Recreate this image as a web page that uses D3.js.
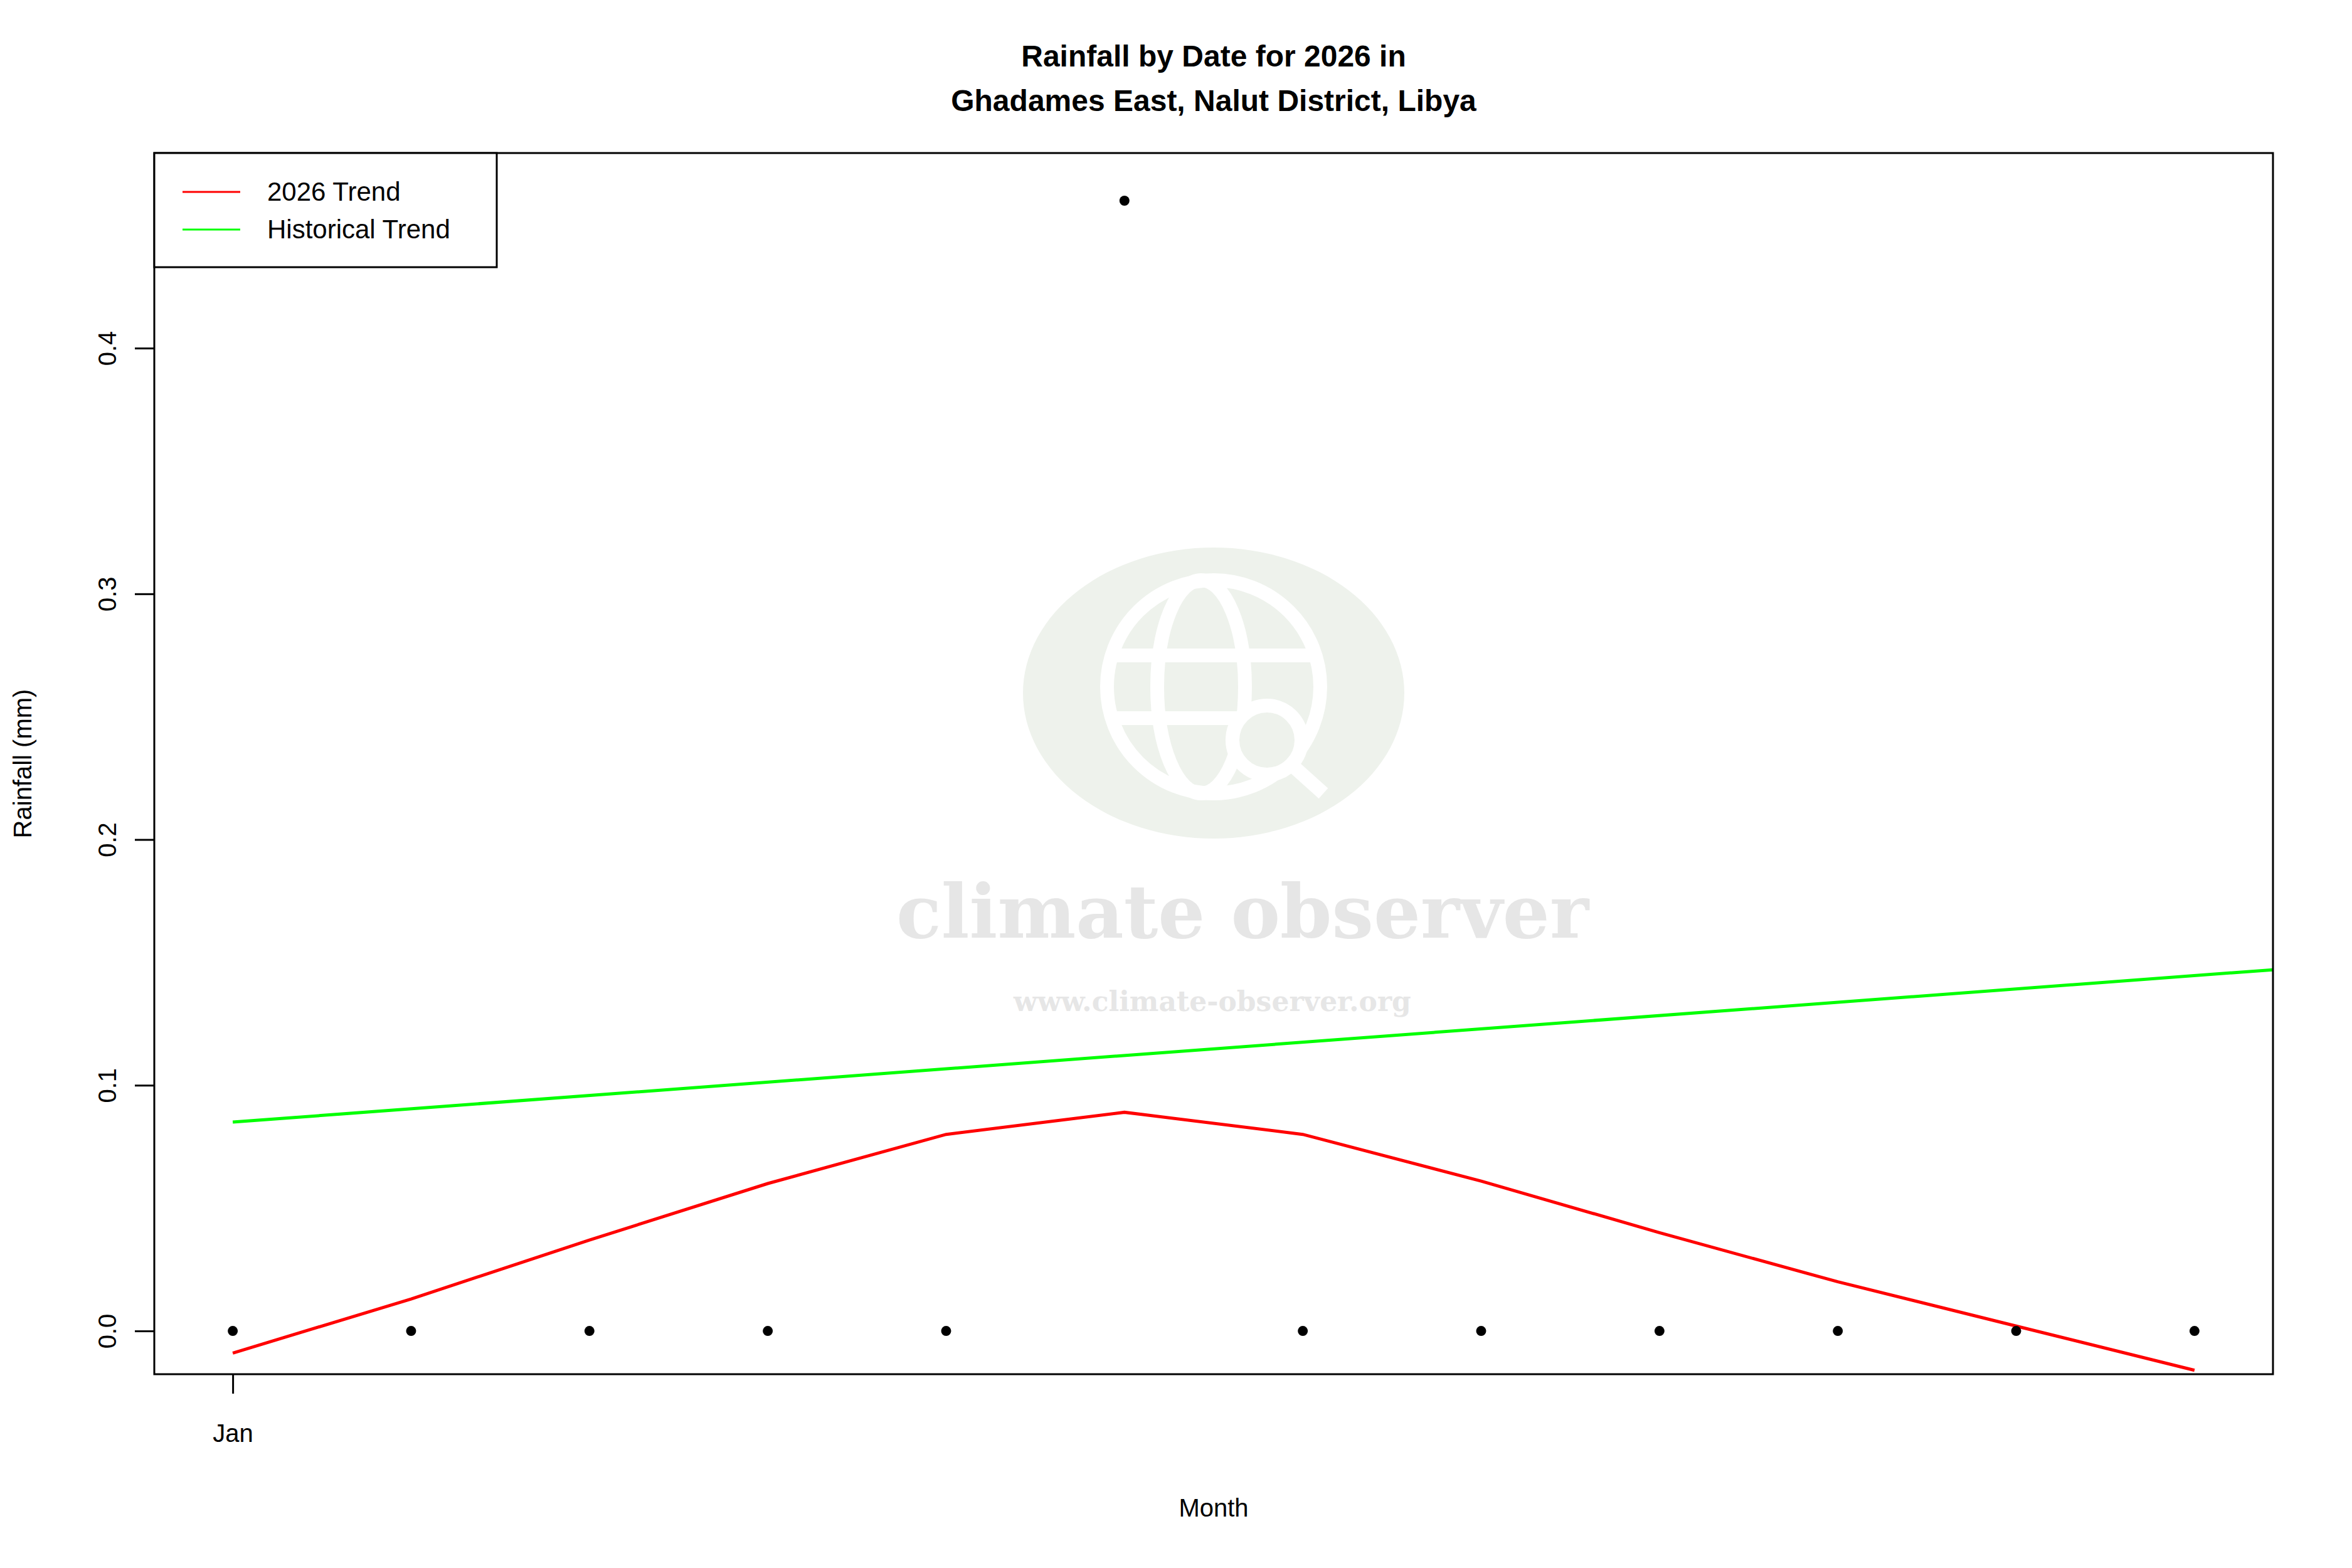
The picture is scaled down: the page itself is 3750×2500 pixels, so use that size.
<!DOCTYPE html>
<html><head><meta charset="utf-8">
<script src="https://cdn.jsdelivr.net/npm/d3@7"></script>
<style>body{margin:0;background:#fff}svg{display:block;font-family:"Liberation Sans",Arial,sans-serif}</style>
</head><body>
<script>
const months = [1,2,3,4,5,6,7,8,9,10,11,12];
const monthLabels = ["Jan"];
const obsMonths = [1,2,3,4,5,6,7,8,9,10,11,12];
const obsValues = [0,0,0,0,0,0.46,0,0,0,0,0,0];
const trend2026 = [-0.009,0.013,0.037,0.060,0.080,0.089,0.080,0.061,0.040,0.020,0.002,-0.016];
const histX = [1,12.44];
const histValues = [0.085,0.147];
const yTicks = [0,0.1,0.2,0.3,0.4];

const W=3750,H=2500;
const L=246,R=3624,T=244,B=2191;
const svg=d3.select("body").append("svg").attr("width",W).attr("height",H);
const x=d3.scaleLinear().domain([0.560,12.44]).range([L,R]);
const y=d3.scaleLinear().domain([-0.0176,0.4794]).range([B,T]);

// watermark
const cx=1935, cy=1105;
svg.append("ellipse").attr("cx",cx).attr("cy",cy).attr("rx",304).attr("ry",232).attr("fill","#eef2ec");
const g=svg.append("g").attr("fill","none").attr("stroke","#fff").attr("stroke-width",22);
g.append("circle").attr("cx",cx).attr("cy",cy-10).attr("r",170);
g.append("ellipse").attr("cx",cx-20).attr("cy",cy-10).attr("rx",70).attr("ry",170);
g.append("line").attr("x1",cx-170).attr("x2",cx+170).attr("y1",cy-60).attr("y2",cy-60);
g.append("line").attr("x1",cx-170).attr("x2",cx+100).attr("y1",cy+40).attr("y2",cy+40);
g.append("circle").attr("cx",cx+85).attr("cy",cy+75).attr("r",55).attr("fill","#eef2ec");
g.append("line").attr("x1",cx+125).attr("y1",cy+115).attr("x2",cx+175).attr("y2",cy+160);
svg.append("text").attr("x",1981).attr("y",1495).attr("text-anchor","middle").attr("font-family","DejaVu Serif").attr("font-weight","bold").attr("font-size",118).attr("fill","#e6e6e6").text("climate observer");
svg.append("text").attr("x",1933).attr("y",1612).attr("text-anchor","middle").attr("font-family","DejaVu Serif").attr("font-weight","bold").attr("font-size",44).attr("fill","#e6e6e6").text("www.climate-observer.org");

// lines
const line=d3.line().x(d=>x(d[0])).y(d=>y(d[1]));
svg.append("path").datum(histX.map((m,i)=>[m,histValues[i]])).attr("d",line).attr("fill","none").attr("stroke","#00ff00").attr("stroke-width",5);
svg.append("path").datum(months.map((m,i)=>[m,trend2026[i]])).attr("d",line).attr("fill","none").attr("stroke","#ff0000").attr("stroke-width",5);
svg.selectAll("circle.pt").data(obsMonths.map((m,i)=>[m,obsValues[i]]).filter(d=>!(d[0]===6&&d[1]===0))).enter().append("circle")
 .attr("class","pt").attr("cx",d=>x(d[0])).attr("cy",d=>y(d[1])).attr("r",8).attr("fill","#000");

// box
svg.append("rect").attr("x",L).attr("y",T).attr("width",R-L).attr("height",B-T).attr("fill","none").attr("stroke","#000").attr("stroke-width",3);

// axes
const ya=d3.axisLeft(y).tickValues(yTicks).tickFormat(d3.format(".1f")).tickSize(30).tickPadding(0);
const yg=svg.append("g").attr("transform",`translate(${L-1},0)`).call(ya);
yg.select(".domain").remove();
yg.selectAll("line").attr("stroke-width",3);
yg.selectAll("text").attr("font-size",40).attr("x",0).attr("y",0).attr("dy",0).attr("text-anchor","middle")
  .attr("transform","translate(-60,0) rotate(-90)");
const xa=d3.axisBottom(x).tickValues([1]).tickFormat((d,i)=>monthLabels[i]).tickSize(30).tickPadding(0);
const xg=svg.append("g").attr("transform",`translate(0,${B+1})`).call(xa);
xg.select(".domain").remove();
xg.selectAll("line").attr("stroke-width",3);
xg.selectAll("text").attr("font-size",40).attr("y",107).attr("dy",0);

// labels
svg.append("text").attr("x",(L+R)/2).attr("y",89+17).attr("text-anchor","middle").attr("font-weight","bold").attr("font-size",48).text("Rainfall by Date for 2026 in");
svg.append("text").attr("x",(L+R)/2).attr("y",160+17).attr("text-anchor","middle").attr("font-weight","bold").attr("font-size",48).text("Ghadames East, Nalut District, Libya");
svg.append("text").attr("x",(L+R)/2).attr("y",2418).attr("text-anchor","middle").attr("font-size",40).text("Month");
svg.append("text").attr("transform",`translate(50,${(T+B)/2}) rotate(-90)`).attr("text-anchor","middle").attr("font-size",40).text("Rainfall (mm)");

// legend
svg.append("rect").attr("x",L).attr("y",T).attr("width",546).attr("height",182).attr("fill","#fff").attr("stroke","#000").attr("stroke-width",3);
const leg=[["2026 Trend","#ff0000"],["Historical Trend","#00ff00"]];
leg.forEach((d,i)=>{
  const yy=T+62+i*60;
  svg.append("line").attr("x1",L+45).attr("x2",L+137).attr("y1",yy).attr("y2",yy).attr("stroke",d[1]).attr("stroke-width",3);
  svg.append("text").attr("x",L+180).attr("y",yy+14).attr("font-size",42).text(d[0]);
});
</script>
</body></html>
